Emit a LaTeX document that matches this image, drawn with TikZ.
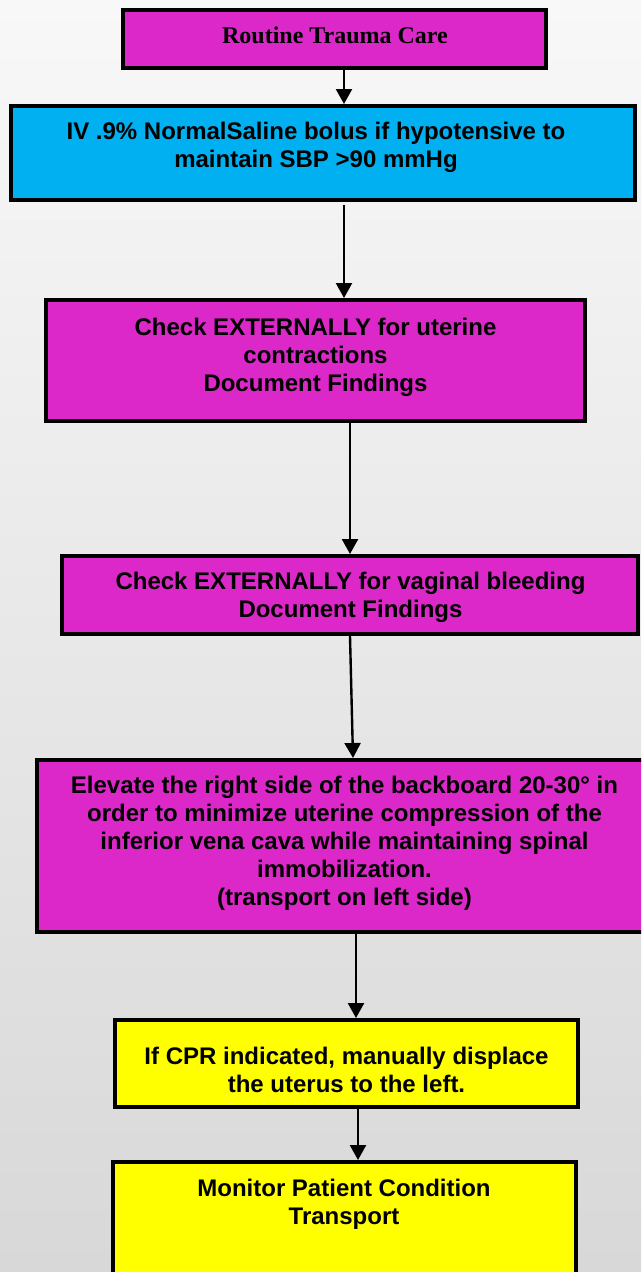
\documentclass[tikz,border=0pt]{standalone}
\usepackage{fontspec}
\setmainfont{Liberation Sans}
\newfontfamily\titleserif{Liberation Serif}
\usetikzlibrary{arrows.meta}

\definecolor{stepmagenta}{RGB}{220,40,200}
\definecolor{stepcyan}{RGB}{0,176,240}
\definecolor{stepyellow}{RGB}{255,255,0}
\definecolor{bgtop}{RGB}{248,248,248}
\definecolor{bgbottom}{RGB}{216,216,216}

\tikzset{
  stepbox/.style={draw=black, line width=4pt, rectangle, inner sep=0pt},
  % base anchor sits on the baseline of the last line
  steptext/.style={inner sep=0pt, align=center, anchor=base,
    font=\fontsize{24}{28}\selectfont\bfseries},
  flowarrow/.style={draw=black, line width=2.4pt,
    -{Triangle[width=16pt,length=15pt]}}
}

\begin{document}
\begin{tikzpicture}[x=1pt, y=-1pt]
  \useasboundingbox (0,0) rectangle (641,1272);
  \clip (0,0) rectangle (641,1272);
  \shade[top color=bgtop, bottom color=bgbottom] (0,0) rectangle (641,1272);

  % boxes
  \node[stepbox, fill=stepmagenta, minimum width=423pt, minimum height=58pt] (b1) at (334.5,39) {};
  \node[stepbox, fill=stepcyan, minimum width=624pt, minimum height=94pt] (b2) at (323,153) {};
  \node[stepbox, fill=stepmagenta, minimum width=539pt, minimum height=121pt] (b3) at (315.5,360.5) {};
  \node[stepbox, fill=stepmagenta, minimum width=576pt, minimum height=78pt] (b4) at (350,595) {};
  \node[stepbox, fill=stepmagenta, minimum width=615pt, minimum height=172pt] (b5) at (344.5,846) {};
  \node[stepbox, fill=stepyellow, minimum width=463pt, minimum height=87pt] (b6) at (346.5,1063.5) {};
  \node[stepbox, fill=stepyellow, minimum width=463pt, minimum height=138pt] (b7) at (344.5,1231) {};

  % connectors
  \draw[flowarrow] (b1.south -| 344,0) -- (b2.north -| 344,0);
  \draw[flowarrow] ([yshift=-3pt]b2.south -| 344,0) -- (b3.north -| 344,0);
  \draw[flowarrow] (b3.south -| 350,0) -- (b4.north -| 350,0);
  \draw[flowarrow] (b4.south -| 350,0) -- (b5.north -| 353,0);
  \draw[flowarrow] (b5.south -| 356,0) -- (b6.north -| 356,0);
  \draw[flowarrow] (b6.south -| 358,0) -- (b7.north -| 358,0);

  % labels
  \node[steptext, font=\fontsize{24}{28}\selectfont\titleserif\bfseries] (t1) at (335,43) {Routine Trauma Care};
  \node[steptext] (t2) at (316,167) {IV .9\% NormalSaline bolus if hypotensive to\\maintain SBP >90 mmHg};
  \node[steptext] (t3) at (315.5,391) {Check EXTERNALLY for uterine\\contractions\\Document Findings};
  \node[steptext] (t4) at (350.5,617) {Check EXTERNALLY for vaginal bleeding\\Document Findings};
  \node[steptext] (t5) at (344.5,905) {Elevate the right side of the backboard 20-30° in\\order to minimize uterine compression of the\\inferior vena cava while maintaining spinal\\immobilization.\\(transport on left side)};
  \node[steptext] (t6) at (346.5,1092) {If CPR indicated, manually displace\\the uterus to the left.};
  \node[steptext] (t7) at (344,1224) {Monitor Patient Condition\\Transport};
\end{tikzpicture}
\end{document}
